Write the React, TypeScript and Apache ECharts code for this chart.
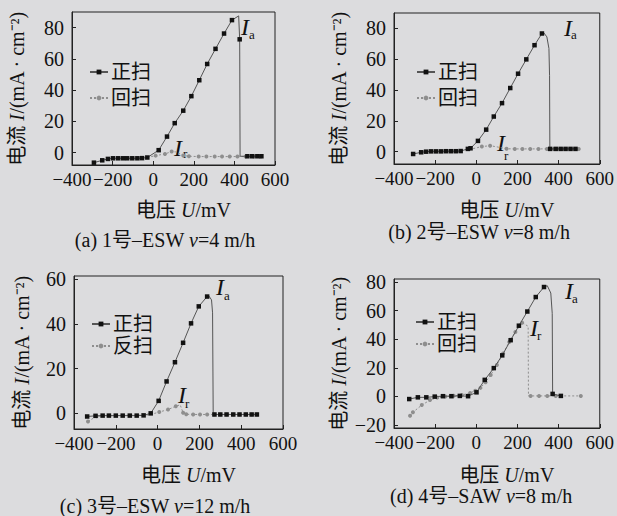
import React, { useEffect, useRef } from "react";
import * as echarts from "echarts";

const FONT = '"Liberation Serif", "Times New Roman", "Noto Sans CJK SC", serif';

// x-axis (voltage, mV) shared by all panels
const xMin = -400;
const xMax = 600;
const xStep = 200;

// ---------- panel (a) 1号-ESW v=4 m/h ----------
const aFwdMarks = [
  [-292, -6.5], [-251, -5.0], [-223, -4.1], [-198, -3.7], [-173, -3.7], [-149, -3.7],
  [-128, -3.7], [-103, -3.7], [-78, -3.7], [-55, -3.6], [-29, -3.2], [27, 1.5], [68, 10.2],
  [106, 18.8], [148, 26.8], [188, 36.1], [227, 46.3], [266, 56.7], [307, 66.4], [349, 76.2],
  [388, 84.8], [426, 72.5], [464, -2.4], [488, -2.4], [513, -2.4], [533, -2.4],
];
const aFwdCurve = [[421, 87.5], [428, -2.4]];
const aRevMarks = [
  [12, -2.0], [58, -0.9], [91, 0.6], [148, -1.9], [176, -2.4], [224, -2.6], [262, -2.6],
  [303, -2.6], [339, -2.6], [377, -2.6], [415, -2.6], [455, -2.6], [495, -2.6], [530, -2.6],
];
const aRevCurve = [[110, 0.4], [-29, -3.2]];
const aYTicks = [0, 20, 40, 60, 80];

// ---------- panel (b) 2号-ESW v=8 m/h ----------
const bFwdMarks = [
  [-307, -1.5], [-268, -0.4], [-244, 0], [-220, 0.2], [-196, 0.2], [-172, 0.2], [-148, 0.3],
  [-124, 0.3], [-100, 0.3], [-76, 0.4], [-41, 1.8], [-28, 2.2], [8, 7], [48, 14.3], [85, 22.8],
  [125, 31.5], [165, 41.3], [203, 50.6], [243, 59.9], [283, 69.1], [319, 76.7],
  [359, 1.8], [386, 1.8], [410, 1.8], [434, 1.8], [458, 1.8], [482, 1.8],
];
const bFwdCurve = [[327, 77.3], [343, 74.5], [353, 67], [356, 49.5], [357.5, 3]];
const bRevMarks = [
  [27, 3.3], [67, 3.9], [147, 1.9], [187, 1.8], [224, 1.8], [262, 1.8], [302, 1.8], [343, 1.8],
  [378, 1.8], [418, 1.8], [458, 1.8], [498, 1.8],
];
const bRevCurve = [[105, 3.0], [-15, 2.0]];
const bYTicks = [0, 20, 40, 60, 80];

// ---------- panel (c) 3号-ESW v=12 m/h ----------
const cFwdMarks = [
  [-337, -1.4], [-297, -1.1], [-263, -1], [-233, -1], [-200, -1], [-167, -1], [-133, -1],
  [-100, -1], [-67, -0.9], [-33, 0], [5, 5.6], [43, 14.3], [83, 22.9], [122, 31.6], [160, 40.3],
  [197, 47.9], [237, 52.3], [272, -0.5], [300, -0.5], [330, -0.5], [362, -0.5], [392, -0.5],
  [422, -0.5], [450, -0.5], [475, -0.5],
];
const cFwdCurve = [[246, 52.5], [258, 50.8], [263, 45], [266, -0.3]];
const cRevMarks = [
  [-333, -3.6], [-292, -1.3], [8, 0.6], [50, 1.7], [87, 3.2], [122, 0.3], [137, -0.4], [170, -0.5],
  [203, -0.5], [237, -0.5], [270, -0.5], [300, -0.5], [330, -0.5], [362, -0.5], [392, -0.5],
  [422, -0.5], [450, -0.5], [475, -0.5],
];
const cRevCurve = [[108, 3.8], [-40, -0.7], [-200, -1.0]];
const cYTicks = [0, 20, 40, 60];

// ---------- panel (d) 4号-SAW v=8 m/h ----------
const dFwdMarks = [
  [-326, -1.8], [-284, -0.6], [-243, -0.6], [-202, -0.1], [-162, 0.2], [-121, 0.2], [-80, 0.4],
  [-40, 0.2], [1, 2.9], [41, 11.6], [85, 19.8], [126, 28.7], [167, 39.3], [207, 49.4], [248, 59.3],
  [289, 69.4], [329, 76.4], [371, 1.8], [411, 0.4],
];
const dFwdCurve = [[345, 77.3], [362, 72.2], [369, 58]];
const dRevMarks = [
  [-322, -13.5], [-308, -11], [-265, -6], [-225, -2.5], [-190, -0.8], [-150, 0], [-110, 0.5],
  [-70, 1], [-30, 2.5], [-5, 4], [20, 6], [45, 10], [70, 15], [100, 22], [130, 30], [160, 38],
  [190, 45], [223, 51.5], [264, 0.4], [305, 0.4], [345, 0.4], [386, 0.4], [508, 0.4],
];
const dRevCurve = [[252, 49], [253.5, 0.4]];
const dYTicks = [-20, 0, 20, 40, 60, 80];

const fwdName = "正扫";
const revNames = ["回扫", "回扫", "反扫", "回扫"];
const captionLabels = ["(a) 1号–ESW ", "(b) 2号–ESW ", "(c) 3号–ESW ", "(d) 4号–SAW "];
const captionSpeeds = ["=4 m/h", "=8 m/h", "=12 m/h", "=8 m/h"];

const panels = [
  { fm: aFwdMarks, fc: aFwdCurve, rm: aRevMarks, rc: aRevCurve, yt: aYTicks, ymin: -8, ymax: 90 },
  { fm: bFwdMarks, fc: bFwdCurve, rm: bRevMarks, rc: bRevCurve, yt: bYTicks, ymin: -8, ymax: 90 },
  { fm: cFwdMarks, fc: cFwdCurve, rm: cRevMarks, rc: cRevCurve, yt: cYTicks, ymin: -7, ymax: 61.5 },
  { fm: dFwdMarks, fc: dFwdCurve, rm: dRevMarks, rc: dRevCurve, yt: dYTicks, ymin: -22, ymax: 82 },
];

// layout (pixels)
const grids = [
  { left: 72, top: 12, width: 203, height: 153 },
  { left: 394, top: 13, width: 209, height: 151 },
  { left: 74, top: 276, width: 209, height: 153 },
  { left: 394, top: 279, width: 209, height: 149 },
];
const xNameGaps = [35, 36, 36, 37];
const yNameGaps = [45, 45, 42, 45];
const legendPos = [
  { left: 84, top: 57, gap: 6 },
  { left: 411, top: 57, gap: 6 },
  { left: 86, top: 309, gap: 2 },
  { left: 410, top: 307, gap: 2 },
];
const captionPos = [
  [165, 240], [479, 232], [155, 506], [481, 496],
];
const annot = [
  // [I x, I y, sub x, sub y, sub]
  [241, 15, 249, 28, "a"], [174, 136, 183, 147, "r"],
  [564, 16, 571, 28, "a"], [497, 131, 504, 149, "r"],
  [216, 275, 224, 289, "a"], [178, 383, 185, 397, "r"],
  [565, 279, 572, 292, "a"], [530, 316, 537, 329, "r"],
];

function build(marks: number[][], curve: number[][]) {
  return [
    ...marks.map((p) => ({ value: p })),
    ...curve.map((p) => ({ value: p, symbol: "none" })),
  ].sort((a, b) => a.value[0] - b.value[0]);
}

const minus = (v: number) => String(v).replace("-", "−");

export default function App() {
  const ref = useRef<HTMLDivElement>(null);
  useEffect(() => {
    if (!ref.current) return;
    const chart = echarts.init(ref.current, null, { renderer: "svg" });

    const xAxis: any[] = [];
    const yAxis: any[] = [];
    const series: any[] = [];
    const legend: any[] = [];
    const graphic: any[] = [];

    panels.forEach((p, i) => {
      xAxis.push({
        type: "value",
        gridIndex: i,
        min: xMin,
        max: xMax,
        interval: xStep,
        name: "电压 {i|U}/mV",
        nameLocation: "middle",
        nameGap: xNameGaps[i],
        nameTextStyle: {
          fontFamily: FONT,
          fontSize: 20,
          color: "#111",
          padding: [0, 0, 0, 20],
          rich: { i: { fontFamily: FONT, fontSize: 20, fontStyle: "italic", color: "#111" } },
        },
        axisLine: { onZero: false, lineStyle: { color: "#222", width: 1 } },
        axisTick: { inside: true, length: 4, lineStyle: { color: "#222" } },
        axisLabel: {
          fontFamily: FONT,
          fontSize: 19,
          color: "#111",
          margin: 5,
          hideOverlap: false,
          showMinLabel: true,
          showMaxLabel: true,
          formatter: (v: number) => minus(v),
        },
        splitLine: { show: false },
      });
      yAxis.push({
        type: "value",
        gridIndex: i,
        min: p.ymin,
        max: p.ymax,
        name: "电流 {i|I}/(mA · cm⁻²)",
        nameLocation: "middle",
        nameGap: yNameGaps[i],
        nameTextStyle: {
          fontFamily: FONT,
          fontSize: 20,
          color: "#111",
          rich: { i: { fontFamily: FONT, fontSize: 20, fontStyle: "italic", color: "#111" } },
        },
        axisLine: { onZero: false, lineStyle: { color: "#222", width: 1 } },
        axisTick: { inside: true, length: 4, customValues: p.yt, lineStyle: { color: "#222" } },
        axisLabel: {
          fontFamily: FONT,
          fontSize: 20,
          color: "#111",
          margin: 8,
          hideOverlap: false,
          customValues: p.yt,
          formatter: (v: number) => minus(v),
        },
        splitLine: { show: false },
      });
      series.push({
        type: "line",
        name: revNames[i],
        xAxisIndex: i,
        yAxisIndex: i,
        data: build(p.rm, p.rc),
        symbol: "circle",
        symbolSize: 4,
        itemStyle: { color: "#8e8e8e" },
        lineStyle: { color: "#8e8e8e", width: 1, type: [2, 2] },
        z: 2,
      });
      series.push({
        type: "line",
        name: fwdName,
        xAxisIndex: i,
        yAxisIndex: i,
        data: build(p.fm, p.fc),
        symbol: "rect",
        symbolSize: 4.5,
        itemStyle: { color: "#111" },
        lineStyle: { color: "#555", width: 1 },
        z: 3,
      });
      legend.push({
        data: [fwdName, revNames[i]],
        orient: "vertical",
        left: legendPos[i].left,
        top: legendPos[i].top,
        itemGap: legendPos[i].gap,
        itemWidth: 18,
        itemHeight: 6,
        selectedMode: false,
        textStyle: { fontFamily: FONT, fontSize: 20, color: "#111", padding: [0, 0, 0, -2] },
      });
      graphic.push({
        type: "text",
        x: captionPos[i][0],
        y: captionPos[i][1],
        style: {
          text: captionLabels[i] + "{i|v}" + captionSpeeds[i],
          fontFamily: FONT,
          fontSize: 20,
          fill: "#111",
          align: "center",
          verticalAlign: "middle",
          textAlign: "center",
          textVerticalAlign: "middle",
          rich: { i: { fontFamily: FONT, fontSize: 20, fontStyle: "italic", fill: "#111" } },
        },
      });
    });

    annot.forEach((a) => {
      graphic.push({
        type: "text",
        x: a[0],
        y: a[1],
        style: {
          text: "I",
          font: 'italic 24px "Liberation Serif"',
          fill: "#111",
          align: "left",
          verticalAlign: "top",
        },
      });
      graphic.push({
        type: "text",
        x: a[2],
        y: a[3],
        style: {
          text: a[4],
          font: '13px "Liberation Serif"',
          fill: "#111",
          align: "left",
          verticalAlign: "top",
        },
      });
    });

    chart.setOption({
      animation: false,
      backgroundColor: "#dcdcde",
      grid: grids.map((g) => ({ ...g, show: true, borderColor: "#222", borderWidth: 1, backgroundColor: "transparent" })),
      xAxis,
      yAxis,
      series,
      legend,
      graphic,
    });
    return () => chart.dispose();
  }, []);
  return (
    <div
      ref={ref}
      style={{ position: "fixed", left: 0, top: 0, width: 617, height: 516 }}
    />
  );
}
